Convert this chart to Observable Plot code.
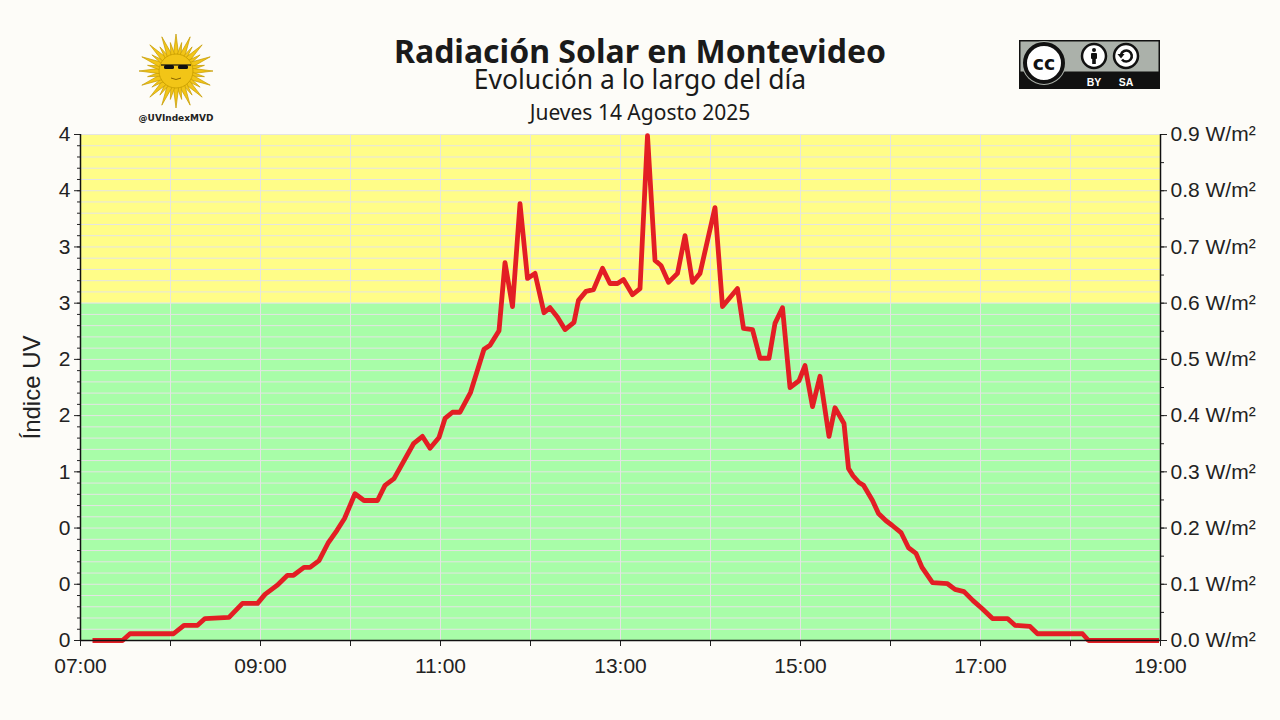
<!DOCTYPE html>
<html>
<head>
<meta charset="utf-8">
<script src="https://cdn.jsdelivr.net/npm/d3@7"></script>
<script src="https://cdn.jsdelivr.net/npm/@observablehq/plot@0.6"></script>
<style>
  html, body { margin:0; padding:0; background:#fdfcf8; }
  #wrap { width:1280px; height:720px; position:relative; overflow:hidden; background:#fdfcf8; }
  #header { position:absolute; left:0; top:0; width:1280px; height:126px; }
  .t { position:absolute; left:0; width:1280px; text-align:center; font-family:"Noto Sans", sans-serif; color:#1a1a1a; line-height:0.8; white-space:nowrap; }
  #chart { position:absolute; left:0; top:126px; }
</style>
</head>
<body>
<div id="wrap">
  <div id="header">
    <svg id="logo" width="1280" height="126" style="position:absolute;left:0;top:0;"></svg>
    <div class="t" id="title" style="top:37.5px; font-size:32px; font-weight:700;">Radiación Solar en Montevideo</div>
    <div class="t" id="subtitle" style="top:69px; font-size:26.5px;">Evolución a lo largo del día</div>
    <div class="t" id="date" style="top:104px; font-size:21px;">Jueves 14 Agosto 2025</div>
  </div>
  <div id="chart"></div>
</div>
<script>
// ---- Data ----
const times = ["07:08","07:28","07:33","08:02","08:09","08:18","08:23","08:39","08:48","08:58",
  "09:03","09:11","09:18","09:22","09:29","09:33","09:39","09:45","09:51","09:56",
  "10:03","10:09","10:18","10:23","10:29","10:42","10:48","10:53","10:59","11:03",
  "11:08","11:13","11:20","11:29","11:33","11:39","11:43","11:48","11:53","11:58",
  "12:03","12:09","12:13","12:18","12:23","12:29","12:32","12:37","12:42","12:48",
  "12:53","12:58","13:02","13:08","13:13","13:18","13:23","13:27","13:32","13:38",
  "13:43","13:48","13:53","14:03","14:08","14:18","14:22","14:28","14:33","14:39",
  "14:43","14:48","14:53","14:59","15:03","15:08","15:13","15:19","15:23","15:29",
  "15:32","15:35","15:39","15:42","15:48","15:52","15:57","16:01","16:07","16:12",
  "16:17","16:21","16:28","16:38","16:43","16:49","16:55","17:01","17:08","17:18",
  "17:23","17:33","17:38","18:08","18:12","18:59"];
const wm2 = [0.000,0.000,0.012,0.012,0.027,0.027,0.039,0.041,0.066,0.066,
  0.082,0.098,0.116,0.116,0.130,0.130,0.142,0.173,0.196,0.217,
  0.261,0.249,0.249,0.276,0.288,0.350,0.363,0.342,0.361,0.395,
  0.406,0.406,0.441,0.518,0.525,0.551,0.672,0.594,0.777,0.644,
  0.653,0.583,0.592,0.575,0.553,0.566,0.605,0.621,0.624,0.662,
  0.635,0.635,0.642,0.615,0.626,0.898,0.676,0.667,0.637,0.653,
  0.720,0.637,0.653,0.770,0.594,0.626,0.555,0.553,0.502,0.502,
  0.564,0.592,0.450,0.462,0.489,0.416,0.470,0.363,0.414,0.386,
  0.306,0.293,0.281,0.276,0.249,0.226,0.213,0.205,0.192,0.165,
  0.155,0.130,0.103,0.101,0.091,0.087,0.071,0.057,0.039,0.039,
  0.027,0.025,0.012,0.012,0.000,0.000];

// Tick labels
const wTicks = [0,0.1,0.2,0.3,0.4,0.5,0.6,0.7,0.8,0.9];
const uvLabels = ["0","0","0","1","2","2","3","3","4","4"];
const xLabelTimes = ["07:00","09:00","11:00","13:00","15:00","17:00","19:00"];
const hourTimes = ["07:00","08:00","09:00","10:00","11:00","12:00","13:00","14:00","15:00","16:00","17:00","18:00","19:00"];

// Zones
const zoneLo = [0, 0.6];
const zoneHi = [0.6, 0.9];
const zoneColors = ["#a8fda8", "#fffd88"];

const parse = t => d3.utcParse("%Y-%m-%d %H:%M")("2025-08-14 " + t);
const data = times.map((t, i) => ({time: parse(t), value: wm2[i]}));
const xMin = parse("07:00"), xMax = parse("19:00");
const hours = hourTimes.map(parse);
const labelSet = new Set(xLabelTimes);
const gridYTicks = d3.range(0, 46).map(i => +(i * 0.02).toFixed(2));
const minorRight = d3.range(0, 19).map(i => +(i * 0.05).toFixed(2));
const zones = zoneLo.map((lo, i) => ({lo, hi: zoneHi[i], color: zoneColors[i]}));

const axisFont = "Liberation Sans, Arial, sans-serif";

const chart = Plot.plot({
  width: 1280,
  height: 594,
  marginLeft: 80,
  marginRight: 120,
  marginTop: 8,
  marginBottom: 80,
  style: {background: "transparent", fontFamily: axisFont, fontSize: "21px", color: "#222", overflow: "visible"},
  x: {type: "utc", domain: [xMin, xMax]},
  y: {domain: [0, 0.9]},
  marks: [
    Plot.rect(zones.slice(0,1), {x1: () => xMin, x2: () => xMax, y1: "lo", y2: "hi", fill: zoneColors[0]}),
    Plot.rect(zones.slice(1,2), {x1: () => xMin, x2: () => xMax, y1: "lo", y2: "hi", fill: zoneColors[1]}),
    Plot.gridY(gridYTicks, {stroke: "#e4e4e4", strokeOpacity: 1, strokeWidth: 1}),
    Plot.gridX(hours, {stroke: "#e4e4e4", strokeOpacity: 1, strokeWidth: 1}),
    Plot.line(data, {x: "time", y: "value", stroke: "#e31e24", strokeWidth: 4.8, strokeLinejoin: "round", strokeLinecap: "butt"}),
    // axes
    Plot.axisX({ticks: hours, tickSize: 6, tickPadding: 12, fontSize: 21,
      tickFormat: d => labelSet.has(d3.utcFormat("%H:%M")(d)) ? d3.utcFormat("%H:%M")(d) : ""}),
    Plot.axisY({anchor: "left", ticks: gridYTicks, tickSize: 3, tickFormat: () => ""}),
    Plot.axisY({anchor: "left", ticks: wTicks, tickSize: 6, tickPadding: 4, fontSize: 21,
      tickFormat: d => uvLabels[Math.round(d * 10)]}),
    Plot.axisY({anchor: "right", ticks: minorRight, tickSize: 3, tickFormat: () => ""}),
    Plot.axisY({anchor: "right", ticks: wTicks, tickSize: 6, tickPadding: 4, fontSize: 21,
      tickFormat: d => d.toFixed(1) + " W/m²"}),
    Plot.ruleX([xMin], {stroke: "#111", strokeWidth: 1.5}),
    Plot.ruleX([xMax], {stroke: "#111", strokeWidth: 1.5}),
    Plot.ruleY([0], {stroke: "#111", strokeWidth: 1.5}),
    Plot.text(["Índice UV"], {frameAnchor: "left", textAnchor: "middle", dx: -48, rotate: -90, fontSize: 24, fill: "#222", fontFamily: axisFont})
  ]
});
document.getElementById("chart").appendChild(chart);

// ---- Decorative logo (sun) and CC badge ----
const svg = d3.select("#logo");
const cx = 176, cy = 71;
const rays = [];
for (let i = 0; i < 32; i++) {
  const a = i * Math.PI / 16 - Math.PI / 2;
  const long = i % 2 === 0;
  const r = long ? 37 : 29;
  const w = long ? 0.17 : 0.13;
  const p = (ang, rr) => [cx + rr * Math.cos(ang), cy + rr * Math.sin(ang)];
  rays.push([p(a - w, 16), p(a, r), p(a + w, 16)]);
}
svg.selectAll("polygon.ray").data(rays).join("polygon")
  .attr("points", d => d.map(q => q.join(",")).join(" "))
  .attr("fill", "#f2c517").attr("stroke", "#c49a00").attr("stroke-width", 0.7);
svg.append("circle").attr("cx", cx).attr("cy", cy).attr("r", 17).attr("fill", "#f2c517").attr("stroke", "#c49a00").attr("stroke-width", 0.8);
svg.append("rect").attr("x", cx - 12).attr("y", cy - 6).attr("width", 10).attr("height", 4).attr("rx", 1.5).attr("fill", "#111");
svg.append("rect").attr("x", cx + 2).attr("y", cy - 6).attr("width", 10).attr("height", 4).attr("rx", 1.5).attr("fill", "#111");
svg.append("line").attr("x1", cx - 15).attr("x2", cx + 15).attr("y1", cy - 6).attr("y2", cy - 6).attr("stroke", "#111").attr("stroke-width", 1.2);
svg.append("path").attr("d", `M${cx-5},${cy+7} Q${cx},${cy+10} ${cx+5},${cy+7}`).attr("fill", "none").attr("stroke", "#8a6500").attr("stroke-width", 1);
svg.append("text").attr("x", cx).attr("y", 121).attr("text-anchor", "middle")
  .attr("font-family", "DejaVu Sans, sans-serif").attr("font-weight", 700).attr("font-size", 9).attr("fill", "#222").text("@UVIndexMVD");

// CC BY-SA badge
const bx = 1019, by = 40;
svg.append("rect").attr("x", bx).attr("y", by).attr("width", 141).attr("height", 49).attr("fill", "#111");
svg.append("rect").attr("x", bx + 1.5).attr("y", by + 1.5).attr("width", 138).attr("height", 30).attr("fill", "#abb1aa");
svg.append("circle").attr("cx", bx + 25).attr("cy", by + 23).attr("r", 22).attr("fill", "#abb1aa");
svg.append("circle").attr("cx", bx + 25).attr("cy", by + 23).attr("r", 19).attr("fill", "#fff").attr("stroke", "#111").attr("stroke-width", 4);
svg.append("text").attr("x", bx + 25).attr("y", by + 30).attr("text-anchor", "middle")
  .attr("font-family", "DejaVu Sans, sans-serif").attr("font-weight", 700).attr("font-size", 19).attr("fill", "#111").text("cc");
[[bx + 75, "BY"], [bx + 107, "SA"]].forEach(([x, lab]) => {
  svg.append("circle").attr("cx", x).attr("cy", by + 16).attr("r", 12).attr("fill", "#fff").attr("stroke", "#111").attr("stroke-width", 2.5);
  svg.append("text").attr("x", x).attr("y", by + 46).attr("text-anchor", "middle")
    .attr("font-family", "Liberation Sans, Arial, sans-serif").attr("font-weight", 700).attr("font-size", 10.5).attr("fill", "#fff").text(lab);
});
// BY person glyph
const px = bx + 75, py = by + 16;
svg.append("circle").attr("cx", px).attr("cy", py - 6).attr("r", 2).attr("fill", "#111");
svg.append("rect").attr("x", px - 3).attr("y", py - 3).attr("width", 6).attr("height", 6).attr("rx", 1).attr("fill", "#111");
svg.append("rect").attr("x", px - 1.8).attr("y", py + 2).attr("width", 3.6).attr("height", 6).attr("fill", "#111");
// SA arrow glyph
const sx = bx + 107, sy = by + 16;
svg.append("path").attr("d", `M${sx-5},${sy-1.5} A5.5,5.5 0 1 1 ${sx-4},${sy+3.5}`).attr("fill", "none").attr("stroke", "#111").attr("stroke-width", 2.6);
svg.append("path").attr("d", `M${sx-8.5},${sy-2} L${sx-1.5},${sy-2} L${sx-5},${sy+2.5} Z`).attr("fill", "#111");
</script>
</body>
</html>
